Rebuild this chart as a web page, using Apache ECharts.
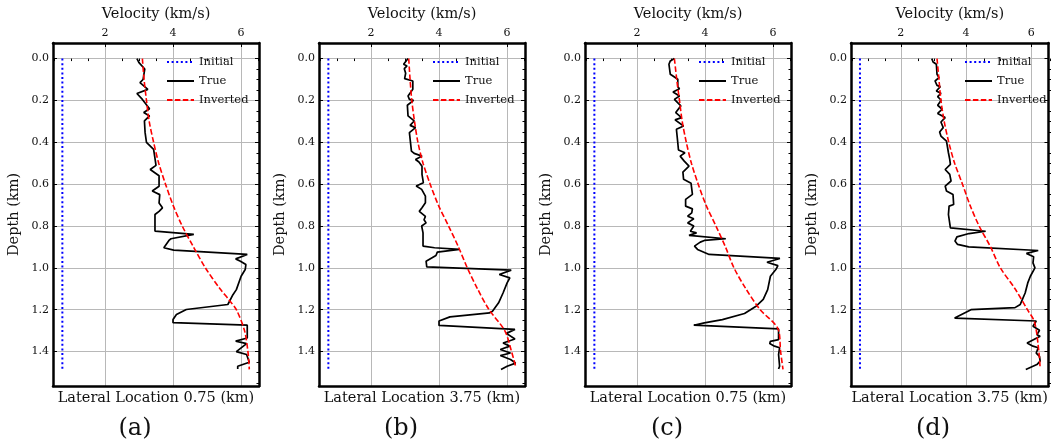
<!DOCTYPE html>
<html><head><meta charset="utf-8">
<script src="https://cdn.jsdelivr.net/npm/echarts@6/dist/echarts.min.js"></script>
<style>html,body{margin:0;padding:0;background:#fff}#c{width:1051px;height:447px}</style>
</head><body><div id="c"></div>
<script>
// ---------------- DATA ----------------
const INITIAL_VELOCITY = 0.75;           // km/s
const INITIAL_DEPTHS = [0, 1.485];       // km
const panelLabels = ['(a)', '(b)', '(c)', '(d)'];
const lateralLocations = ['0.75', '3.75', '0.75', '3.75'];
const velocityTicks = [2, 4, 6];
const depthTicks = [0, 0.2, 0.4, 0.6, 0.8, 1.0, 1.2, 1.4];
const seriesNames = ['Initial', 'True', 'Inverted'];

// pairs are [depth (km), velocity (km/s)]
const trueA = [[0,2.94],[0.019,3.00],[0.05,3.17],[0.1,3.12],[0.115,3.03],[0.147,3.26],[0.167,2.94],[0.195,3.10],[0.24,3.31],[0.258,3.14],[0.274,3.31],[0.298,3.16],[0.354,3.18],[0.40,3.22],[0.434,3.43],[0.466,3.46],[0.51,3.50],[0.53,3.33],[0.56,3.59],[0.61,3.59],[0.633,3.39],[0.65,3.61],[0.69,3.59],[0.713,3.69],[0.73,3.59],[0.745,3.47],[0.824,3.47],[0.84,4.61],[0.861,3.94],[0.869,3.88],[0.904,3.73],[0.915,4.02],[0.936,6.18],[0.957,5.84],[0.968,5.98],[0.984,6.14],[1.008,6.12],[1.04,6.00],[1.104,5.86],[1.128,5.76],[1.175,5.61],[1.199,4.39],[1.223,4.10],[1.247,4.00],[1.262,4.00],[1.274,6.18],[1.335,6.18],[1.35,5.84],[1.362,6.16],[1.40,5.86],[1.414,6.16],[1.451,6.24],[1.47,5.90],[1.483,5.90]];
const invA = [[0,3.10],[0.1,3.15],[0.2,3.22],[0.3,3.30],[0.4,3.43],[0.5,3.58],[0.6,3.78],[0.7,4.00],[0.8,4.27],[0.9,4.60],[1.0,4.95],[1.1,5.38],[1.15,5.63],[1.2,5.86],[1.3,6.10],[1.4,6.20],[1.485,6.24]];

const trueB = [[0,3.09],[0.027,2.96],[0.035,3.06],[0.048,2.98],[0.07,3.02],[0.096,2.99],[0.107,3.23],[0.147,3.23],[0.179,3.09],[0.195,3.13],[0.2,3.25],[0.223,3.07],[0.274,3.09],[0.298,3.27],[0.319,3.15],[0.33,3.31],[0.354,3.13],[0.442,3.19],[0.453,3.27],[0.466,3.50],[0.482,3.31],[0.494,3.41],[0.514,3.50],[0.553,3.50],[0.593,3.54],[0.609,3.33],[0.625,3.49],[0.657,3.60],[0.689,3.60],[0.713,3.50],[0.73,3.42],[0.754,3.60],[0.77,3.56],[0.785,3.62],[0.8,3.49],[0.833,3.53],[0.896,3.53],[0.904,3.87],[0.912,4.60],[0.925,3.95],[0.941,3.91],[0.968,3.62],[0.995,3.64],[1.011,6.12],[1.032,5.77],[1.048,6.08],[1.072,6.00],[1.12,5.88],[1.167,5.75],[1.207,5.57],[1.215,5.49],[1.234,4.32],[1.254,4.00],[1.275,4.00],[1.294,6.23],[1.313,5.98],[1.34,6.23],[1.359,5.88],[1.374,6.08],[1.39,5.80],[1.407,6.10],[1.419,5.80],[1.438,6.10],[1.455,6.25],[1.47,6.00],[1.486,5.82]];
const invB = [[0,3.11],[0.1,3.15],[0.2,3.20],[0.3,3.28],[0.4,3.38],[0.5,3.53],[0.6,3.74],[0.7,3.98],[0.8,4.28],[0.9,4.57],[1.0,4.83],[1.1,5.13],[1.2,5.47],[1.3,5.93],[1.4,6.13],[1.47,6.25]];

const trueC = [[0,3.10],[0.011,2.98],[0.027,2.94],[0.075,2.98],[0.099,3.20],[0.134,3.20],[0.144,3.25],[0.16,3.06],[0.179,3.25],[0.195,3.10],[0.226,3.29],[0.258,3.14],[0.282,3.31],[0.293,3.12],[0.322,3.37],[0.338,3.16],[0.402,3.20],[0.437,3.22],[0.45,3.41],[0.466,3.27],[0.49,3.39],[0.514,3.53],[0.542,3.35],[0.577,3.37],[0.596,3.59],[0.649,3.63],[0.673,3.43],[0.705,3.43],[0.718,3.63],[0.737,3.61],[0.753,3.49],[0.765,3.67],[0.785,3.49],[0.8,3.67],[0.825,3.57],[0.833,3.75],[0.845,3.53],[0.861,4.61],[0.869,3.98],[0.877,3.86],[0.896,3.69],[0.912,3.78],[0.936,4.12],[0.955,6.20],[0.973,5.82],[0.989,6.14],[1.008,6.08],[1.04,5.92],[1.104,5.84],[1.151,5.71],[1.182,5.51],[1.218,5.16],[1.247,4.51],[1.263,3.98],[1.274,3.67],[1.292,6.16],[1.343,6.16],[1.351,5.92],[1.362,5.90],[1.374,6.04],[1.382,6.19],[1.414,6.16],[1.47,6.19],[1.483,6.16]];
const invC = [[0,3.10],[0.1,3.17],[0.2,3.25],[0.3,3.33],[0.4,3.45],[0.5,3.60],[0.6,3.80],[0.7,4.03],[0.8,4.32],[0.9,4.60],[1.0,4.85],[1.1,5.20],[1.2,5.62],[1.29,6.14],[1.4,6.22],[1.485,6.29]];

const trueD = [[0,2.95],[0.016,2.99],[0.027,3.09],[0.075,3.11],[0.091,3.17],[0.107,3.05],[0.128,3.11],[0.134,3.21],[0.155,3.09],[0.166,3.23],[0.182,3.13],[0.198,3.23],[0.21,3.19],[0.223,3.13],[0.242,3.27],[0.262,3.13],[0.282,3.36],[0.303,3.23],[0.33,3.30],[0.351,3.19],[0.37,3.23],[0.394,3.40],[0.45,3.46],[0.482,3.50],[0.506,3.52],[0.53,3.36],[0.553,3.50],[0.585,3.54],[0.609,3.36],[0.633,3.40],[0.65,3.60],[0.697,3.62],[0.705,3.48],[0.745,3.46],[0.809,3.52],[0.825,4.60],[0.836,4.09],[0.852,3.72],[0.872,3.66],[0.888,3.74],[0.9,4.08],[0.917,6.21],[0.931,5.85],[0.947,6.07],[0.976,6.05],[1.0,6.11],[1.04,5.97],[1.072,5.89],[1.12,5.81],[1.16,5.70],[1.175,5.66],[1.19,5.50],[1.2,4.15],[1.24,3.65],[1.254,6.15],[1.279,6.05],[1.298,6.25],[1.32,6.17],[1.327,6.27],[1.359,5.87],[1.374,6.05],[1.382,6.21],[1.407,6.15],[1.423,6.25],[1.446,6.27],[1.462,6.17],[1.486,5.83]];
const invD = [[0,3.11],[0.1,3.17],[0.2,3.23],[0.3,3.33],[0.4,3.47],[0.5,3.65],[0.6,3.89],[0.7,4.12],[0.8,4.40],[0.9,4.75],[1.0,5.05],[1.1,5.50],[1.2,5.88],[1.26,6.10],[1.4,6.23],[1.48,6.27]];

const trueProfiles = [trueA, trueB, trueC, trueD];
const invertedProfiles = [invA, invB, invC, invD];

// ---------------- LAYOUT / STYLE ----------------
const X_MIN = 0.475, X_MAX = 6.525;
const Y_MIN = -0.0745, Y_MAX = 1.5645;
const GRID_LEFTS = [53, 319, 585, 851];
const GRID_TOP = 43, GRID_W = 206, GRID_H = 343;
const FONT = 'DejaVu Serif';
const TXT = '#111';

const minorV = []; for (let k = 1; k <= 13; k++) { const v = k * 0.5; if (velocityTicks.indexOf(v) < 0) minorV.push(v); }
const minorD = []; for (let k = 0; k <= 31; k++) { const v = +(k * 0.05).toFixed(2); if (Math.abs(v * 5 - Math.round(v * 5)) > 1e-6) minorD.push(v); }

const toXY = arr => arr.map(p => [p[1], p[0]]);
const spine = {show: true, onZero: false, lineStyle: {color: '#000', width: 2.5}};

const grids = [], xAxes = [], yAxes = [], series = [], legends = [], graphics = [];
for (let i = 0; i < 4; i++) {
  const L = GRID_LEFTS[i];
  const g = grids.length;
  grids.push({left: L, top: GRID_TOP, width: GRID_W, height: GRID_H});
  const go = grids.length;
  grids.push({left: L, top: GRID_TOP, width: GRID_W, height: GRID_H});

  const xTop = xAxes.length;
  xAxes.push({gridIndex: g, type: 'value', position: 'top', min: X_MIN, max: X_MAX,
    name: 'Velocity (km/s)', nameLocation: 'middle', nameGap: 21,
    nameTextStyle: {fontFamily: FONT, fontSize: 14.5, color: TXT},
    axisLine: spine,
    axisTick: {show: true, inside: true, length: 4, customValues: velocityTicks, lineStyle: {color: '#000', width: 1}},
    axisLabel: {show: true, customValues: velocityTicks, margin: 4, fontFamily: FONT, fontSize: 11, color: TXT},
    splitLine: {show: true, lineStyle: {color: '#b8b8b8', width: 1}}});
  xAxes.push({gridIndex: g, type: 'value', position: 'bottom', min: X_MIN, max: X_MAX,
    name: 'Lateral Location ' + lateralLocations[i] + ' (km)', nameLocation: 'middle', nameGap: 5,
    nameTextStyle: {fontFamily: FONT, fontSize: 14.5, color: TXT},
    axisLine: spine, axisTick: {show: false}, axisLabel: {show: false}, splitLine: {show: false}});
  xAxes.push({gridIndex: go, type: 'value', position: 'top', min: X_MIN, max: X_MAX,
    axisLine: {show: false},
    axisTick: {show: true, inside: true, length: 2.5, customValues: minorV, lineStyle: {color: '#000', width: 1}},
    axisLabel: {show: false}, splitLine: {show: false}});

  const yLeft = yAxes.length;
  yAxes.push({gridIndex: g, type: 'value', position: 'left', inverse: true, min: Y_MIN, max: Y_MAX,
    name: 'Depth (km)', nameLocation: 'middle', nameGap: 31, nameRotate: 90,
    nameTextStyle: {fontFamily: FONT, fontSize: 14.5, color: TXT},
    axisLine: spine,
    axisTick: {show: true, inside: true, length: 4, customValues: depthTicks, lineStyle: {color: '#000', width: 1}},
    axisLabel: {show: true, customValues: depthTicks, margin: 4, fontFamily: FONT, fontSize: 11, color: TXT,
      formatter: v => Number(v).toFixed(1)},
    splitLine: {show: true, lineStyle: {color: '#b8b8b8', width: 1}}});
  yAxes.push({gridIndex: g, type: 'value', position: 'right', inverse: true, min: Y_MIN, max: Y_MAX,
    axisLine: spine,
    axisTick: {show: true, inside: true, length: 4, customValues: depthTicks, lineStyle: {color: '#000', width: 1}},
    axisLabel: {show: false}, splitLine: {show: false}});
  yAxes.push({gridIndex: go, type: 'value', position: 'right', inverse: true, min: Y_MIN, max: Y_MAX,
    axisLine: {show: false},
    axisTick: {show: true, inside: true, length: 2.5, customValues: minorD, lineStyle: {color: '#000', width: 1}},
    axisLabel: {show: false}, splitLine: {show: false}});

  series.push({type: 'line', name: seriesNames[0], xAxisIndex: xTop, yAxisIndex: yLeft,
    data: INITIAL_DEPTHS.map(d => [INITIAL_VELOCITY, d]), symbol: 'none', z: 3,
    lineStyle: {color: '#0000ff', width: 2, type: [2, 2.6]}, itemStyle: {color: '#0000ff'}});
  series.push({type: 'line', name: seriesNames[1], xAxisIndex: xTop, yAxisIndex: yLeft,
    data: toXY(trueProfiles[i]), symbol: 'none', z: 3,
    lineStyle: {color: '#000', width: 1.7}, itemStyle: {color: '#000'}});
  series.push({type: 'line', name: seriesNames[2], xAxisIndex: xTop, yAxisIndex: yLeft,
    data: toXY(invertedProfiles[i]), symbol: 'none', z: 4, smooth: 0.3,
    lineStyle: {color: '#ff0000', width: 1.6, type: [5.5, 2.4]}, itemStyle: {color: '#ff0000'}});

  legends.push({data: seriesNames, orient: 'vertical', left: L + 108, top: 50,
    itemWidth: 27, itemHeight: 14, itemGap: 5, selectedMode: false,
    itemStyle: {opacity: 0, borderWidth: 0},
    textStyle: {fontFamily: FONT, fontSize: 11.5, color: TXT, lineHeight: 14}});

  graphics.push({type: 'text', x: L + 82, y: 429,
    style: {text: panelLabels[i], fontFamily: FONT, fontSize: 24, fill: TXT, textAlign: 'center', textVerticalAlign: 'middle'}});
}

const chart = echarts.init(document.getElementById('c'), null, {renderer: 'canvas'});
chart.setOption({
  animation: false,
  backgroundColor: '#fff',
  grid: grids, xAxis: xAxes, yAxis: yAxes, series: series, legend: legends, graphic: graphics
});
</script></body></html>
